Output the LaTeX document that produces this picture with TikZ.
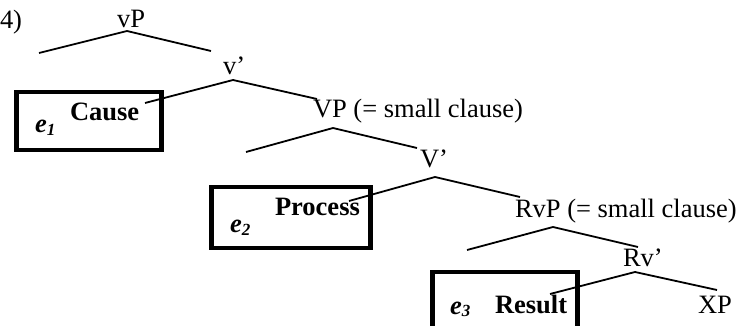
\documentclass[tikz,border=0pt]{standalone}
\usepackage{fontspec}
\setmainfont{Liberation Serif}
\newcommand{\fs}{\fontsize{26.5}{30}\selectfont}
\newcommand{\subfs}{\fontsize{17}{17}\selectfont}
\newcommand{\evsub}[2]{\bfseries\itshape #1\raisebox{-0.1em}{\subfs #2}}
\begin{document}
\begin{tikzpicture}[x=1pt,y=-1pt,
  lbl/.style={anchor=base west, inner sep=0pt, outer sep=0pt, font=\fs},
  evt/.style={lbl, font=\fs\bfseries},
  branch/.style={line width=1.8pt},
  evbox/.style={draw, line width=4.5pt, anchor=north west, inner sep=0pt}]
\clip (0,0) rectangle (740,326);

% boxes
\node[evbox, minimum width=145pt, minimum height=58pt] (b1) at (14,90) {};
\node[evbox, minimum width=159pt, minimum height=61pt] (b2) at (209,185) {};
\node[evbox, minimum width=145pt, minimum height=80pt] (b3) at (430,270) {};

% labels
\node[lbl] (num) at (0,29) {4)};
\node[lbl] (vP) at (117,28) {vP};
\node[lbl] (vbar) at (223,75) {v’};
\node[lbl] (VP) at (313,118) {VP (= small clause)};
\node[lbl] (Vbar) at (420,168) {V’};
\node[lbl] (RvP) at (515,218) {RvP (= small clause)};
\node[lbl] (Rvbar) at (623,267) {Rv’};
\node[lbl] (XP) at (698,313) {XP};

\node[evt] (cause) at (70,121) {Cause};
\node[lbl] (e1) at (35,133) {\evsub{e}{1}};
\node[evt] (process) at (275,216) {Process};
\node[lbl] (e2) at (230,233) {\evsub{e}{2}};
\node[evt] (result) at (495,313) {Result};
\node[lbl] (e3) at (450,314) {\evsub{e}{3}};

% branch points
\coordinate (a1) at (127,31);  \coordinate (l1) at (39,53);   \coordinate (r1) at (211,51);
\coordinate (a2) at (233,80);  \coordinate (l2) at (145,103); \coordinate (r2) at (317,99);
\coordinate (a3) at (333,128); \coordinate (l3) at (246,152); \coordinate (r3) at (417,148);
\coordinate (a4) at (435,177); \coordinate (l4) at (349,201); \coordinate (r4) at (520,197);
\coordinate (a5) at (553,227); \coordinate (l5) at (467,250); \coordinate (r5) at (638,247);
\coordinate (a6) at (635,272); \coordinate (l6) at (550,294); \coordinate (r6) at (717,290);

\draw[branch] (l1) -- (a1) -- (r1);
\draw[branch] (l2) -- (a2) -- (r2);
\draw[branch] (l3) -- (a3) -- (r3);
\draw[branch] (l4) -- (a4) -- (r4);
\draw[branch] (l5) -- (a5) -- (r5);
\draw[branch] (l6) -- (a6) -- (r6);
\end{tikzpicture}
\end{document}
